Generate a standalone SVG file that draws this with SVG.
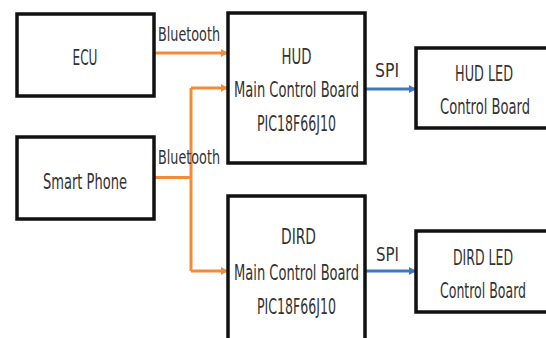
<svg xmlns="http://www.w3.org/2000/svg" width="546" height="338" viewBox="0 0 546 338">
<style>
.box{fill:#fff;stroke:#111;stroke-width:3.5}
.t{font-family:"Liberation Sans Narrow","DejaVu Sans Condensed","Liberation Sans",sans-serif;font-size:22px;fill:#333;text-anchor:middle}
.lb{font-family:"Liberation Sans Narrow","DejaVu Sans Condensed","Liberation Sans",sans-serif;font-size:20px;fill:#333}
.bt{fill:none;stroke:#F28C38;stroke-width:3}
.spi{fill:none;stroke:#3E78C0;stroke-width:3}
</style>
<defs>
<marker id="ao" markerWidth="8" markerHeight="8" refX="6" refY="4" orient="auto" markerUnits="userSpaceOnUse"><path d="M0,0 L7,4 L0,8 Z" fill="#F28C38"/></marker>
<marker id="ab" markerWidth="8" markerHeight="8" refX="6" refY="4" orient="auto" markerUnits="userSpaceOnUse"><path d="M0,0 L7,4 L0,8 Z" fill="#3E78C0"/></marker>
</defs>
<rect width="546" height="338" fill="#fff"/>
<g id="connectors">
<path class="bt" d="M154,53 H227" marker-end="url(#ao)"/>
<path class="bt" d="M154,177.5 H191 M191,88 V271" />
<path class="bt" d="M191,88 H227" marker-end="url(#ao)"/>
<path class="bt" d="M191,271 H227" marker-end="url(#ao)"/>
<path class="spi" d="M365,89 H415" marker-end="url(#ab)"/>
<path class="spi" d="M365,271 H415" marker-end="url(#ab)"/>
<text class="lb" x="158" y="41" textLength="62" lengthAdjust="spacingAndGlyphs">Bluetooth</text>
<text class="lb" x="158" y="164" textLength="62" lengthAdjust="spacingAndGlyphs">Bluetooth</text>
<text class="lb" x="375" y="77" textLength="24" lengthAdjust="spacingAndGlyphs">SPI</text>
<text class="lb" x="376" y="261" textLength="23" lengthAdjust="spacingAndGlyphs">SPI</text>
</g>
<g id="ecu">
<rect class="box" x="17" y="14" width="137" height="82"/>
<text class="t" x="85" y="65" textLength="25" lengthAdjust="spacingAndGlyphs">ECU</text>
</g>
<g id="smartphone">
<rect class="box" x="17" y="137" width="137" height="82"/>
<text class="t" x="85" y="189" textLength="84" lengthAdjust="spacingAndGlyphs">Smart Phone</text>
</g>
<g id="hud-main">
<rect class="box" x="228" y="13" width="137" height="150"/>
<text class="t" x="296.5" y="64" textLength="30" lengthAdjust="spacingAndGlyphs">HUD</text>
<text class="t" x="296.5" y="97" textLength="125" lengthAdjust="spacingAndGlyphs">Main Control Board</text>
<text class="t" x="296.5" y="131" textLength="79" lengthAdjust="spacingAndGlyphs">PIC18F66J10</text>
</g>
<g id="dird-main">
<rect class="box" x="228" y="196" width="137" height="150"/>
<text class="t" x="298.5" y="244" textLength="35" lengthAdjust="spacingAndGlyphs">DIRD</text>
<text class="t" x="296.5" y="280" textLength="125" lengthAdjust="spacingAndGlyphs">Main Control Board</text>
<text class="t" x="296.5" y="314" textLength="79" lengthAdjust="spacingAndGlyphs">PIC18F66J10</text>
</g>
<g id="hud-led">
<rect class="box" x="416" y="48" width="135" height="80"/>
<text class="t" x="484" y="81" textLength="58" lengthAdjust="spacingAndGlyphs">HUD LED</text>
<text class="t" x="485" y="114" textLength="90" lengthAdjust="spacingAndGlyphs">Control Board</text>
</g>
<g id="dird-led">
<rect class="box" x="416" y="231" width="135" height="81"/>
<text class="t" x="483" y="265" textLength="60" lengthAdjust="spacingAndGlyphs">DIRD LED</text>
<text class="t" x="483" y="298" textLength="86" lengthAdjust="spacingAndGlyphs">Control Board</text>
</g>
</svg>
